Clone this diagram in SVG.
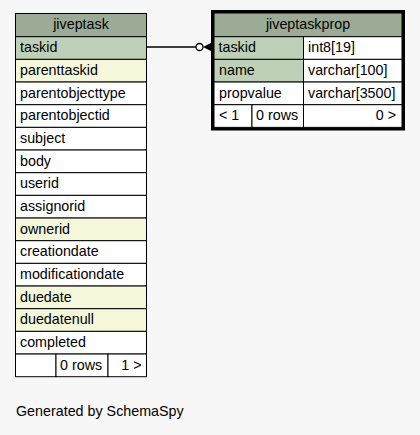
<svg xmlns="http://www.w3.org/2000/svg" width="420" height="435" viewBox="0 0 420 435">
<style>
text{font-family:"Liberation Sans",Arial,sans-serif;font-size:14.3px;fill:#000}
.hd{fill:#9bab96;stroke:#000;stroke-width:1}
.pk{fill:#bed1b8;stroke:#000;stroke-width:1}
.ix{fill:#f4f7da;stroke:#000;stroke-width:1}
.pl{fill:#ffffff;stroke:#000;stroke-width:1}
.c{text-anchor:middle}
.r{text-anchor:end}
</style>
<rect x="0" y="0" width="420" height="435" fill="#f7f7f7"/>
<g id="connectors">
<line x1="147" y1="47" x2="196" y2="47" stroke="#000" stroke-width="1.3"/>
<circle cx="199.5" cy="47" r="3.5" fill="#fff" stroke="#000" stroke-width="1.3"/>
<polygon points="203,47 211,43 211,51" fill="#000"/>
</g>
<g id="jiveptask">
<rect class="hd" x="15.5" y="13.5" width="131" height="23.2"/>
<text class="c" x="81" y="29">jiveptask</text>
<rect class="pk" x="15.5" y="36.7" width="131" height="22.67"/>
<text x="20" y="52.4">taskid</text>
<rect class="ix" x="15.5" y="59.37" width="131" height="22.67"/>
<text x="20" y="75.1">parenttaskid</text>
<rect class="pl" x="15.5" y="82.03" width="131" height="22.67"/>
<text x="20" y="97.7">parentobjecttype</text>
<rect class="pl" x="15.5" y="104.7" width="131" height="22.67"/>
<text x="20" y="120.4">parentobjectid</text>
<rect class="pl" x="15.5" y="127.37" width="131" height="22.67"/>
<text x="20" y="143.1">subject</text>
<rect class="pl" x="15.5" y="150.03" width="131" height="22.67"/>
<text x="20" y="165.7">body</text>
<rect class="pl" x="15.5" y="172.7" width="131" height="22.67"/>
<text x="20" y="188.4">userid</text>
<rect class="pl" x="15.5" y="195.37" width="131" height="22.67"/>
<text x="20" y="211.1">assignorid</text>
<rect class="ix" x="15.5" y="218.03" width="131" height="22.67"/>
<text x="20" y="233.7">ownerid</text>
<rect class="pl" x="15.5" y="240.7" width="131" height="22.67"/>
<text x="20" y="256.4">creationdate</text>
<rect class="pl" x="15.5" y="263.37" width="131" height="22.67"/>
<text x="20" y="279.1">modificationdate</text>
<rect class="ix" x="15.5" y="286.03" width="131" height="22.67"/>
<text x="20" y="301.7">duedate</text>
<rect class="ix" x="15.5" y="308.7" width="131" height="22.67"/>
<text x="20" y="324.4">duedatenull</text>
<rect class="pl" x="15.5" y="331.37" width="131" height="22.67"/>
<text x="20" y="347.1">completed</text>
<rect class="pl" x="15.5" y="354.03" width="40.5" height="22.67"/>
<rect class="pl" x="56" y="354.03" width="52" height="22.67"/>
<rect class="pl" x="108" y="354.03" width="38.5" height="22.67"/>
<text x="60" y="369.7">0 rows</text>
<text class="r" x="141.5" y="369.7">1 &gt;</text>
</g>
<g id="jiveptaskprop">
<rect class="hd" x="214" y="13" width="188" height="23.7"/>
<text class="c" x="308" y="29">jiveptaskprop</text>
<rect class="pk" x="214" y="36.7" width="89.5" height="22.67"/>
<rect class="pl" x="303.5" y="36.7" width="98.5" height="22.67"/>
<text x="218.5" y="52.4">taskid</text>
<text x="308" y="52.4">int8[19]</text>
<rect class="pk" x="214" y="59.37" width="89.5" height="22.67"/>
<rect class="pl" x="303.5" y="59.37" width="98.5" height="22.67"/>
<text x="219" y="75.1">name</text>
<text x="308" y="75.1">varchar[100]</text>
<rect class="pl" x="214" y="82.03" width="89.5" height="22.67"/>
<rect class="pl" x="303.5" y="82.03" width="98.5" height="22.67"/>
<text x="219" y="97.7">propvalue</text>
<text x="308" y="97.7">varchar[3500]</text>
<rect class="pl" x="214" y="104.7" width="38" height="22.67"/>
<rect class="pl" x="252" y="104.7" width="51.5" height="22.67"/>
<rect class="pl" x="303.5" y="104.7" width="98.5" height="22.67"/>
<text x="219" y="120.4">&lt; 1</text>
<text x="256" y="120.4">0 rows</text>
<text class="r" x="396" y="120.4">0 &gt;</text>
<rect x="212.5" y="11.5" width="191" height="117.5" fill="none" stroke="#000" stroke-width="3"/>
</g>
<text x="16" y="416">Generated by SchemaSpy</text>
</svg>
